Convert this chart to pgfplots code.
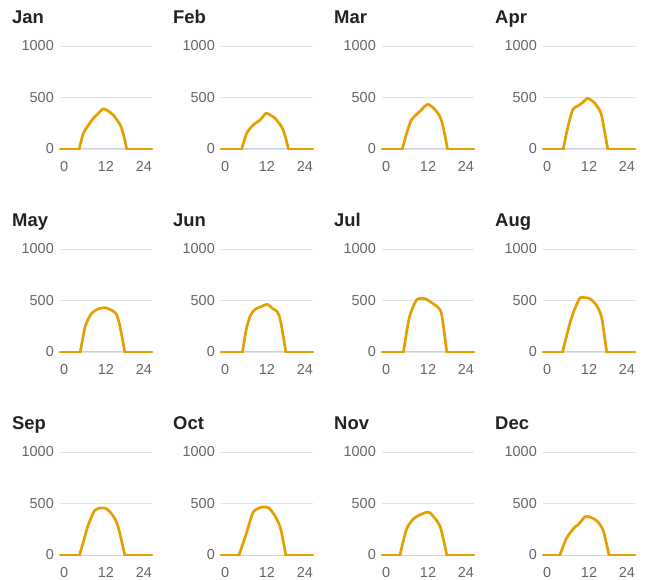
\documentclass[border=0pt]{standalone}
\usepackage{pgfplots}
\pgfplotsset{compat=1.18}
\usepackage{fontspec}
\setmainfont{Liberation Sans}
\definecolor{lineor}{HTML}{E69F00}
\definecolor{gridc}{HTML}{E3E3E3}
\definecolor{basec}{HTML}{C9D1E3}
\definecolor{tickc}{HTML}{666666}
\definecolor{titlec}{HTML}{222222}
\pgfplotsset{
  panel/.style={
    scale only axis, width=92bp, height=103bp,
    xmin=0, xmax=24, ymin=0, ymax=1000,
    clip=false,
    axis x line=bottom, axis y line=left,
    x axis line style={draw=basec, line width=1pt, -},
    y axis line style={draw=none},
    xtick={0,12,24}, xticklabels={\makebox[0pt][l]{0},12,\makebox[0pt][r]{24}},
    ytick={0,500,1000}, yticklabels={0,500,1000},
    major tick length=0pt,
    ymajorgrids, grid style={draw=gridc, line width=0.9pt},
    tick label style={font=\fontsize{14.5}{16}\selectfont, text=tickc, inner sep=0pt},
    yticklabel style={anchor=east, xshift=-6bp},
    xticklabel style={anchor=north, yshift=-12bp},
    title style={at={(0,1)}, anchor=base west, xshift=-48bp, yshift=17bp, inner sep=0pt,
      font=\fontsize{18.5}{21}\selectfont\bfseries, text=titlec},
  },
  ln/.style={lineor, line width=2.7pt, line join=round, line cap=round},
}
% #4 = start of daylight, #5 = end of daylight, #6 = daylight points
\newcommand\panel[6]{%
  \begin{axis}[panel, at={(60bp+161bp*#1,431bp-203bp*#2)}, anchor=south west, title={#3}]
    \addplot[ln] coordinates {(0,0)(#4,0)};
    \addplot[ln, smooth, tension=0.45] coordinates {(#4,0)#6(#5,0)};
    \addplot[ln] coordinates {(#5,0)(24,0)};
  \end{axis}}
\begin{document}
\begin{tikzpicture}
\path (0,0) rectangle (649bp,580bp);
\panel{0}{0}{Jan}{5}{17.4}{(6.1,152)(7.3,225)(8.7,298)(10,345)(11.1,388)(12.2,378)(13.9,330)(15.7,233)(16.5,150)}
\panel{1}{0}{Feb}{5.4}{17.6}{(6.7,152)(8.4,233)(10.2,282)(11.75,347)(12.8,330)(14.1,298)(15.8,217)(16.7,130)}
\panel{2}{0}{Mar}{5.3}{17.1}{(6.5,160)(7.7,283)(9.9,366)(11.9,433)(13.8,383)(15.3,300)(16.2,170)}
\panel{3}{0}{Apr}{5.3}{16.9}{(6.4,200)(7.75,383)(9.0,416)(10.3,450)(11.6,490)(13.4,450)(15.1,350)(16.0,183)}
\panel{0}{1}{May}{5.3}{16.9}{(6.6,250)(8.2,373)(9.9,417)(11.7,430)(13.4,407)(14.7,367)(15.6,257)}
\panel{1}{1}{Jun}{5.6}{16.9}{(6.6,220)(7.7,357)(9.0,417)(10.5,440)(12.1,463)(13.4,423)(14.7,390)(15.6,290)}
\panel{2}{1}{Jul}{5.6}{16.9}{(6.5,210)(7.3,357)(9.05,507)(11.2,517)(12.5,490)(14.7,430)(15.6,357)}
\panel{3}{1}{Aug}{5.1}{16.6}{(7.05,283)(8.3,420)(9.7,527)(11,527)(12.3,517)(14.0,450)(15.3,333)}
\panel{0}{2}{Sep}{5.1}{16.9}{(6.2,140)(7.3,283)(9.05,433)(10.8,456)(12.1,450)(13.8,383)(15.1,283)}
\panel{1}{2}{Oct}{4.7}{16.9}{(6.4,183)(8.2,400)(9.3,445)(10.8,466)(12.5,456)(14.3,366)(15.6,250)}
\panel{2}{2}{Nov}{4.7}{16.9}{(6.4,250)(8.2,350)(9.9,390)(11.7,416)(12.5,410)(14.3,333)(15.4,250)}
\panel{3}{2}{Dec}{4.4}{17.2}{(6.2,167)(8.35,273)(9.2,293)(11,373)(12.3,367)(14,333)(15.7,240)}
\end{tikzpicture}
\end{document}
